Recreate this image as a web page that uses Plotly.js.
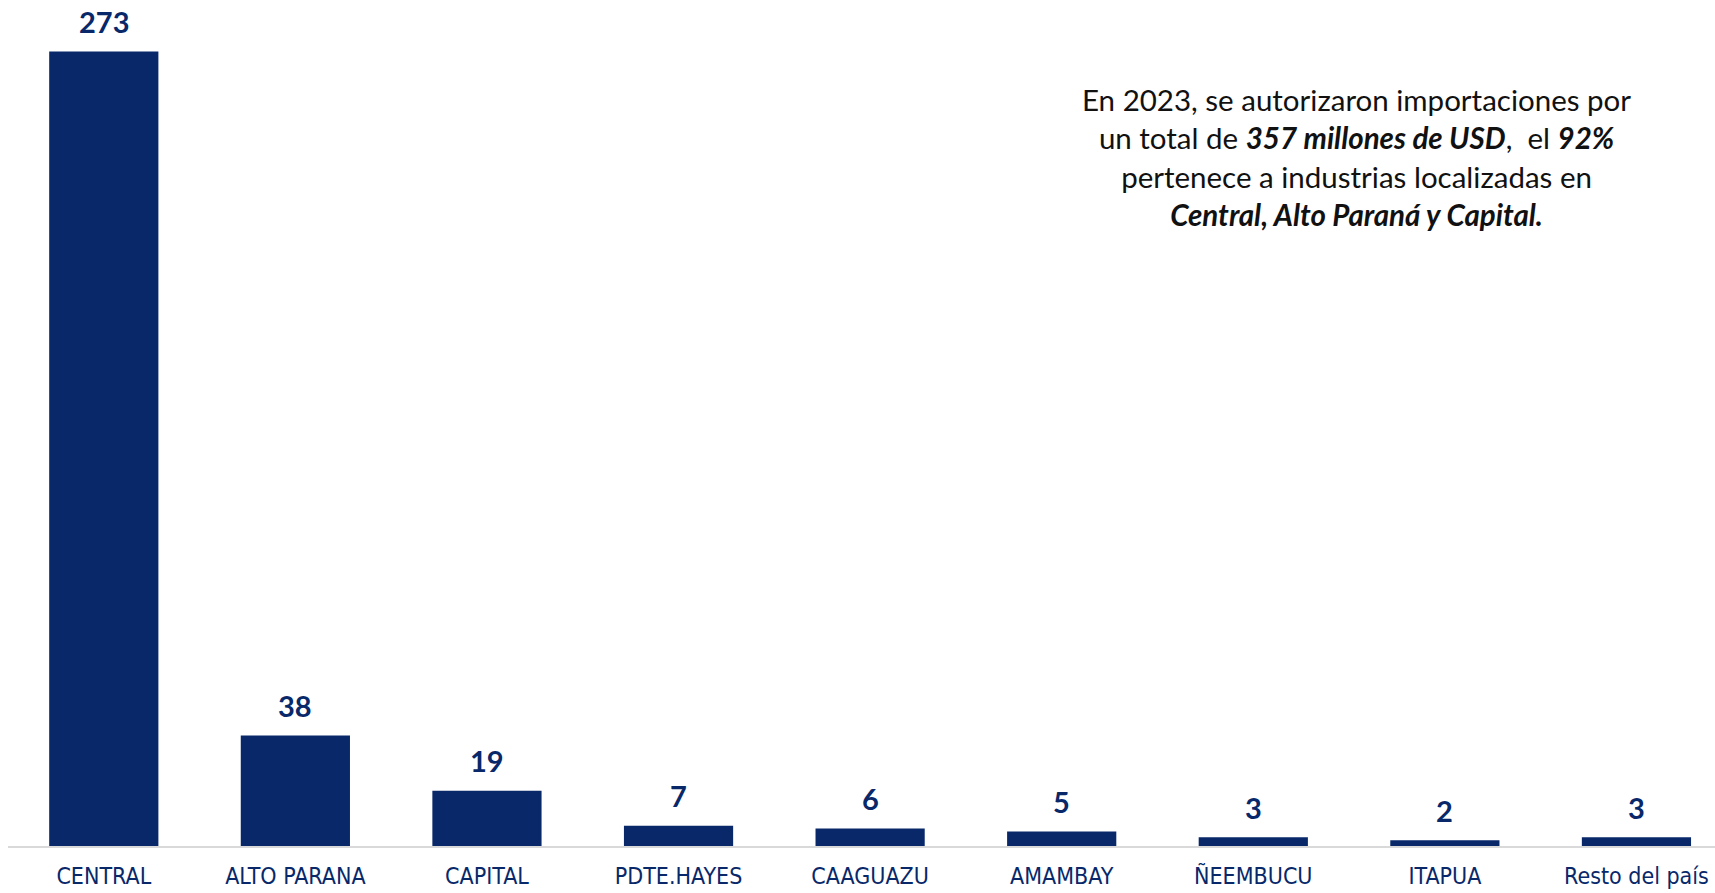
<!DOCTYPE html>
<html>
<head>
<meta charset="utf-8">
<script src="https://cdn.plot.ly/plotly-3.0.1.min.js"></script>
<style>html,body{margin:0;padding:0;background:#fff;}#chart{width:1715px;height:893px;}</style>
</head>
<body>
<div id="chart"></div>
<script>
const categories = ["CENTRAL","ALTO PARANA","CAPITAL","PDTE.HAYES","CAAGUAZU","AMAMBAY","ÑEEMBUCU","ITAPUA","Resto del país"];
const values = [273, 38, 19, 7, 6, 5, 3, 2, 3];
const noteLines = [
  "En 2023, se autorizaron importaciones por",
  "un total de <b><i>357 millones de USD</i></b>,  el <b><i>92%</i></b>",
  "pertenece a industrias localizadas en",
  "<b><i>Central, Alto Paraná y Capital.</i></b>"
];
const navy = "#08286a";
const fontFam = "Lato, 'Open Sans', sans-serif";
const narrowFam = "'Liberation Sans Narrow', 'DejaVu Sans Condensed', Lato, sans-serif";

const labelAnns = categories.map((c, i) => ({
  x: c, y: values[i], xref: "x", yref: "y",
  text: "<b>" + values[i] + "</b>",
  showarrow: false, yanchor: "middle", yshift: 30,
  font: {family: fontFam, size: 29, color: navy}
}));

Plotly.newPlot("chart", [{
  type: "bar",
  x: categories,
  y: values,
  width: 0.57,
  marker: {color: navy},
  hoverinfo: "x+y"
}], {
  width: 1715, height: 893,
  margin: {l: 8, r: 0, t: 0, b: 47},
  paper_bgcolor: "#fff", plot_bgcolor: "#fff",
  showlegend: false,
  xaxis: {
    range: [-0.5, 8.41],
    showline: true, linecolor: "#d9d9d9", linewidth: 2,
    showgrid: false, zeroline: false,
    ticks: "", ticklabelstandoff: 8,
    tickfont: {family: narrowFam, size: 23, color: navy}
  },
  yaxis: {
    range: [0, 290.7], visible: false, showgrid: false, zeroline: false
  },
  annotations: labelAnns.concat([{
    xref: "paper", yref: "paper",
    x: (1356 - 8) / 1707, y: 1 - 80 / 846,
    xanchor: "center", yanchor: "top",
    align: "center",
    showarrow: false,
    text: noteLines.join("<br>"),
    font: {family: fontFam, size: 29.5, color: "#111"}
  }])
}, {displayModeBar: false});
</script>
</body>
</html>
